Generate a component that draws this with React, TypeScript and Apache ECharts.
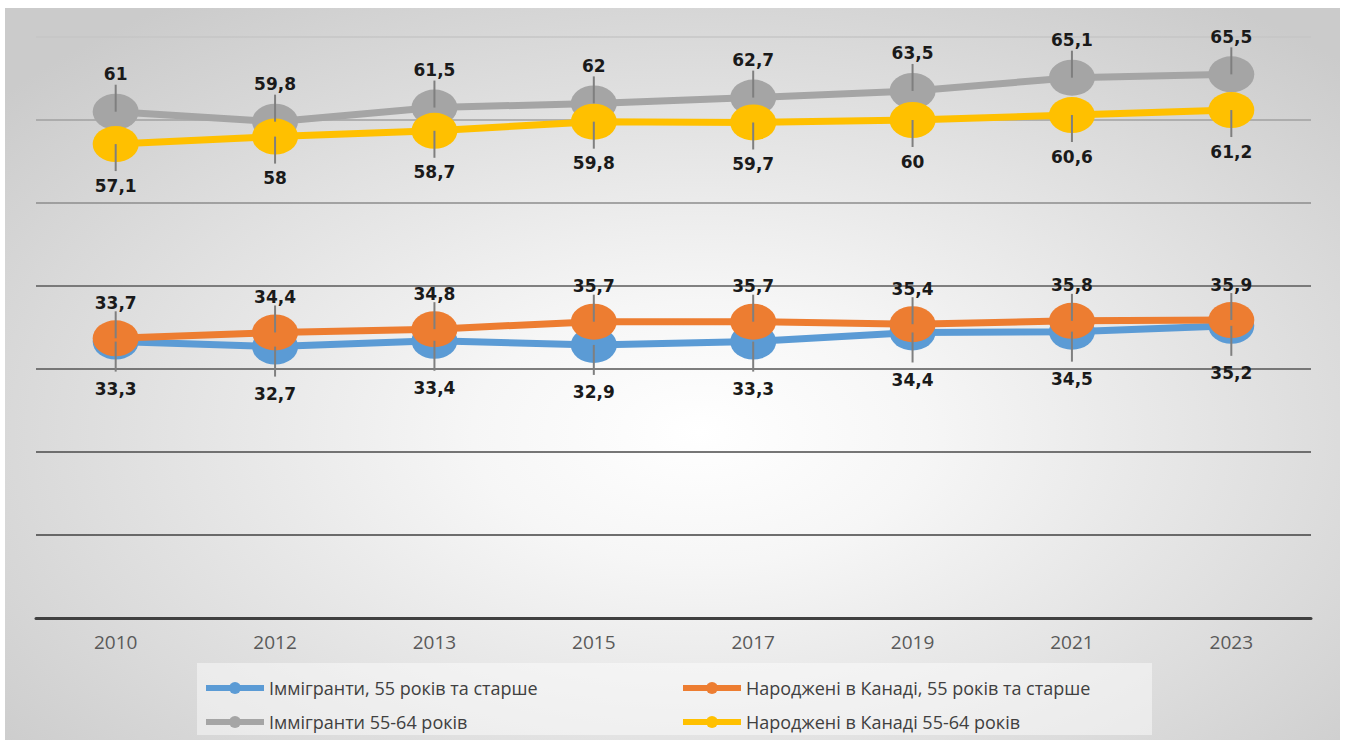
import React, { useEffect, useRef } from "react";
import * as echarts from "echarts";

const years = ["2010", "2012", "2013", "2015", "2017", "2019", "2021", "2023"];
const immigrants55plus = [33.3, 32.7, 33.4, 32.9, 33.3, 34.4, 34.5, 35.2];
const canadaBorn55plus = [33.7, 34.4, 34.8, 35.7, 35.7, 35.4, 35.8, 35.9];
const immigrants5564 = [61, 59.8, 61.5, 62, 62.7, 63.5, 65.1, 65.5];
const canadaBorn5564 = [57.1, 58, 58.7, 59.8, 59.7, 60, 60.6, 61.2];
const seriesNames = [
  "Іммігранти, 55 років та старше",
  "Народжені в Канаді, 55 років та старше",
  "Іммігранти 55-64 років",
  "Народжені в Канаді 55-64 років",
];
const yMin = 0;
const yMax = 70;
const yInterval = 10;

const ELLIPSE = "path://M0,18A23,18 0 1,1 46,18A23,18 0 1,1 0,18Z";

export default function App() {
  const ref = useRef<HTMLDivElement>(null);
  useEffect(() => {
    if (!ref.current) return;
    const chart = echarts.init(ref.current, null, { renderer: "svg" });

    const defs = [
      { name: seriesNames[0], data: immigrants55plus, color: "#5B9BD5", pos: "bottom", dist: 21, dir: 1 },
      { name: seriesNames[1], data: canadaBorn55plus, color: "#ED7D31", pos: "top", dist: 9, dir: -1 },
      { name: seriesNames[2], data: immigrants5564, color: "#A5A5A5", pos: "top", dist: 11, dir: -1 },
      { name: seriesNames[3], data: canadaBorn5564, color: "#FFC000", pos: "bottom", dist: 15, dir: 1 },
    ];

    const lineSeries = defs.map((d, k) => ({
      type: "line",
      name: d.name,
      data: d.data,
      z: 2 + k * 0.1,
      symbol: ELLIPSE,
      symbolSize: [46, 36],
      showAllSymbol: true,
      itemStyle: { color: d.color },
      lineStyle: { color: d.color, width: 7 },
      label: {
        show: true,
        position: d.pos,
        distance: d.dist,
        fontFamily: "DejaVu Sans",
        fontWeight: "bold",
        fontSize: 17,
        color: "#1a1a1a",
        formatter: (p: any) => String(p.value).replace(".", ","),
      },
      emphasis: { disabled: true },
    }));

    const leaderSeries = defs.map((d) => ({
      type: "custom",
      name: d.name + " leader",
      data: d.data.map((v, i) => [i, v]),
      z: 5,
      silent: true,
      renderItem: (_params: any, api: any) => {
        const p = api.coord([api.value(0), api.value(1)]);
        return {
          type: "line",
          shape: { x1: p[0], y1: p[1], x2: p[0], y2: p[1] + d.dir * (d.dir > 0 && d.dist > 18 ? 30 : 27) },
          style: { stroke: "#7f7f7f", lineWidth: 2 },
        };
      },
    }));

    const legendText = { fontFamily: "Open Sans", fontSize: 18, color: "#404040", lineHeight: 20 };
    const legendCommon = {
      orient: "vertical",
      top: 673,
      itemWidth: 58,
      itemHeight: 15,
      itemGap: 14,
      textStyle: legendText,
      selectedMode: false,
      lineStyle: { width: 6 },
    };

    chart.setOption({
      animation: false,
      backgroundColor: "transparent",
      grid: { left: 36, right: 37, top: 37, bottom: 122, containLabel: false },
      xAxis: {
        type: "category",
        data: years,
        boundaryGap: true,
        axisLine: { show: true, lineStyle: { color: "#404040", width: 3 } },
        axisTick: { show: false },
        axisLabel: { fontFamily: "Open Sans", fontSize: 19, color: "#595959", margin: 14 },
        splitLine: { show: false },
        z: 10,
      },
      yAxis: {
        type: "value",
        min: yMin,
        max: yMax,
        interval: yInterval,
        axisLine: { show: false },
        axisTick: { show: false },
        axisLabel: { show: false },
        splitLine: {
          show: true,
          lineStyle: {
            width: 1.6,
            color: ["#404040", "#404040", "#4a4a4a", "#555555", "#5a5a5a", "#8c8c8c", "#a0a0a0", "#c6c6c6"],
          },
        },
      },
      legend: [
        { ...legendCommon, data: [seriesNames[0], seriesNames[2]], left: 198 },
        { ...legendCommon, data: [seriesNames[1], seriesNames[3]], left: 675 },
      ],
      graphic: [
        {
          type: "rect",
          left: 197,
          top: 663,
          z: -1,
          shape: { width: 955, height: 72 },
          style: { fill: "rgba(255,255,255,0.45)" },
          silent: true,
        },
      ],
      series: [...lineSeries, ...leaderSeries],
    });

    return () => chart.dispose();
  }, []);

  return (
    <div style={{ position: "fixed", left: 0, top: 0, width: 1348, height: 740, background: "#ffffff" }}>
      <div
        style={{
          position: "absolute",
          left: 5,
          top: 8,
          width: 1335,
          height: 732,
          background:
            "radial-gradient(ellipse 68% 72% at 52% 58%, #ffffff 0%, #f6f6f6 25%, #e2e2e2 60%, #cbcbcb 100%)",
        }}
      />
      <div ref={ref} style={{ position: "absolute", left: 0, top: 0, width: 1348, height: 740 }} />
    </div>
  );
}
